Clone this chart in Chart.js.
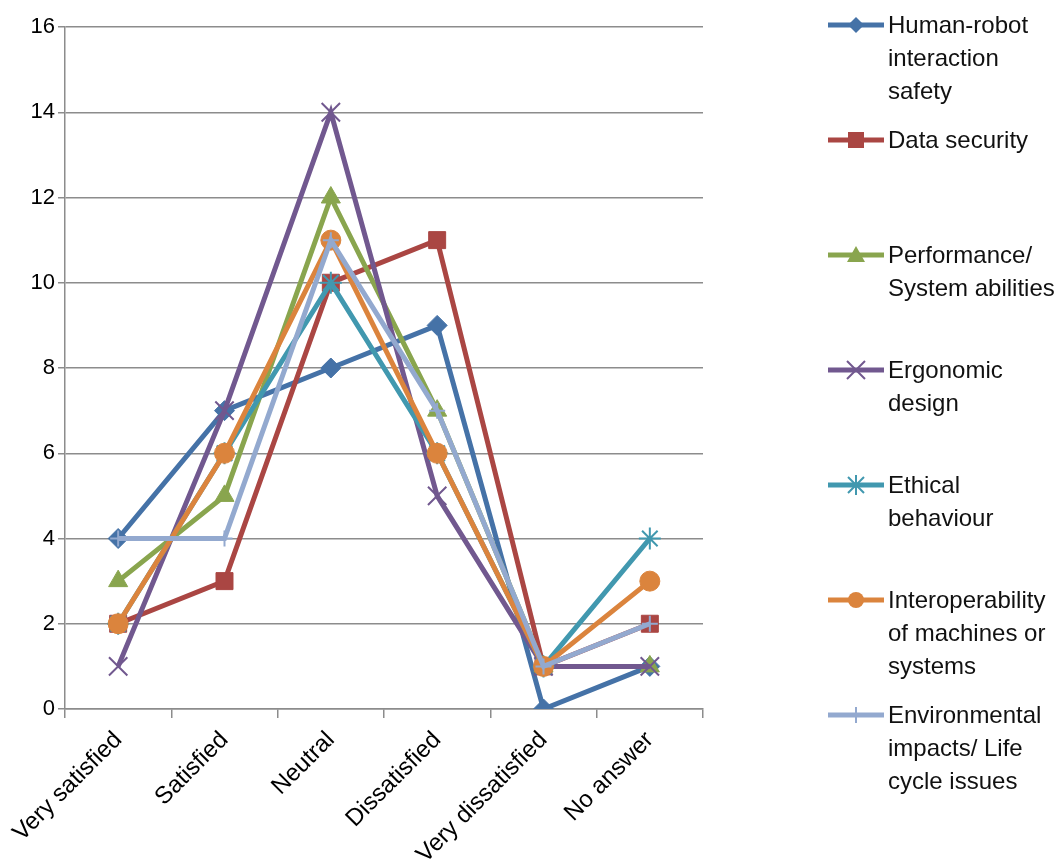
<!DOCTYPE html>
<html lang="en">
<head>
    <meta charset="UTF-8">
    <title>Satisfaction by topic</title>
    <script src="https://cdn.jsdelivr.net/npm/chart.js"></script>
    <style>
        body {
            margin: 0;
            background: #fff;
            font-family: 'Liberation Sans', sans-serif;
        }
        .wrap {
            position: relative;
            width: 1062px;
            height: 865px;
        }
        #legend {
            position: absolute;
            left: 828px;
            top: 8px;
        }
        .item {
            position: relative;
            height: 115px;
            padding-left: 60px;
            font-size: 24px;
            line-height: 33px;
            color: #111;
            white-space: nowrap;
        }
        .item svg {
            position: absolute;
            left: 0;
            top: 7px;
        }
    </style>
</head>
<body>
    <div class="wrap">
        <canvas id="chart" width="1062" height="865"></canvas>
        <div id="legend"></div>
    </div>

    <script>
        const categories = ['Very satisfied', 'Satisfied', 'Neutral', 'Dissatisfied', 'Very dissatisfied', 'No answer'];

        const seriesNames = [
            ['Human-robot', 'interaction', 'safety'],
            ['Data security'],
            ['Performance/', 'System abilities'],
            ['Ergonomic', 'design'],
            ['Ethical', 'behaviour'],
            ['Interoperability', 'of machines or', 'systems'],
            ['Environmental', 'impacts/ Life', 'cycle issues']
        ];

        const humanRobot = [4, 7, 8, 9, 0, 1];
        const dataSecurity = [2, 3, 10, 11, 1, 2];
        const performance = [3, 5, 12, 7, 1, 1];
        const ergonomic = [1, 7, 14, 5, 1, 1];
        const ethical = [2, 6, 10, 6, 1, 4];
        const interoperability = [2, 6, 11, 6, 1, 3];
        const environmental = [4, 4, 11, 7, 1, 2];

        const yTicks = [0, 2, 4, 6, 8, 10, 12, 14, 16];

        const allValues = [humanRobot, dataSecurity, performance, ergonomic, ethical, interoperability, environmental];
        const colors = ['#4572A7', '#AA4643', '#89A54E', '#71588F', '#4198AF', '#DB843D', '#93A9CF'];
        const shapes = ['rectRot', 'rect', 'triangle', 'crossRot', 'star', 'circle', 'cross'];
        const radii = [10, 12, 11, 13, 11, 10, 8];

        const datasets = allValues.map((vals, i) => {
            const open = ['crossRot', 'star', 'cross'].includes(shapes[i]);
            return {
                label: seriesNames[i].join(' '),
                data: vals,
                borderColor: colors[i],
                backgroundColor: colors[i],
                borderWidth: 5,
                tension: 0,
                pointStyle: shapes[i],
                pointRadius: radii[i],
                pointBorderWidth: open ? 2 : 1,
                pointBorderColor: colors[i],
                pointBackgroundColor: colors[i],
                order: allValues.length - i
            };
        });

        // legend as html, markers as small svgs
        function markerSvg(shape, color) {
            let m = '';
            const cx = 28, cy = 10;
            if (shape === 'rectRot') m = `<polygon points="${cx},${cy-8} ${cx+8},${cy} ${cx},${cy+8} ${cx-8},${cy}" fill="${color}"/>`;
            if (shape === 'rect') m = `<rect x="${cx-8}" y="${cy-8}" width="16" height="16" fill="${color}"/>`;
            if (shape === 'triangle') m = `<polygon points="${cx},${cy-9} ${cx+9},${cy+7} ${cx-9},${cy+7}" fill="${color}"/>`;
            if (shape === 'circle') m = `<circle cx="${cx}" cy="${cy}" r="8" fill="${color}"/>`;
            if (shape === 'crossRot') m = `<path d="M${cx-9} ${cy-9}L${cx+9} ${cy+9}M${cx+9} ${cy-9}L${cx-9} ${cy+9}" stroke="${color}" stroke-width="2"/>`;
            if (shape === 'star') m = `<path d="M${cx-8} ${cy-8}L${cx+8} ${cy+8}M${cx+8} ${cy-8}L${cx-8} ${cy+8}M${cx} ${cy-10}L${cx} ${cy+10}" stroke="${color}" stroke-width="2"/>`;
            if (shape === 'cross') m = `<path d="M${cx} ${cy-8}L${cx} ${cy+8}" stroke="${color}" stroke-width="2"/>`;
            return `<svg width="56" height="20"><line x1="0" y1="10" x2="56" y2="10" stroke="${color}" stroke-width="5"/>${m}</svg>`;
        }

        document.getElementById('legend').innerHTML = seriesNames.map((lines, i) =>
            `<div class="item">${markerSvg(shapes[i], colors[i])}${lines.join('<br>')}</div>`
        ).join('');

        const gridColor = '#8c8c8c';
        const yFont = { family: 'Liberation Sans', size: 22 };
        const xFont = { family: 'Liberation Sans', size: 24 };

        new Chart(document.getElementById('chart'), {
            type: 'line',
            data: { labels: categories, datasets: datasets },
            options: {
                responsive: false,
                animation: false,
                layout: { padding: { top: 27, right: 359, left: 0, bottom: 0 } },
                plugins: { legend: { display: false }, tooltip: { enabled: false } },
                scales: {
                    x: {
                        offset: true,
                        grid: { offset: true, drawOnChartArea: false, drawTicks: true, tickLength: 9, color: gridColor, lineWidth: 1.5 },
                        border: { color: gridColor, width: 1.5 },
                        ticks: { font: xFont, color: '#000', maxRotation: 45, minRotation: 45, autoSkip: false, padding: 8 },
                        afterFit: s => { s.height = 156; }
                    },
                    y: {
                        min: 0,
                        max: 16,
                        afterBuildTicks: s => { s.ticks = yTicks.map(v => ({ value: v })); },
                        grid: { color: gridColor, lineWidth: 1.5, tickLength: 7 },
                        border: { color: gridColor, width: 1.5 },
                        ticks: { font: yFont, color: '#000', padding: 3 },
                        afterFit: s => { s.width = 65; }
                    }
                }
            }
        });
    </script>
</body>
</html>
